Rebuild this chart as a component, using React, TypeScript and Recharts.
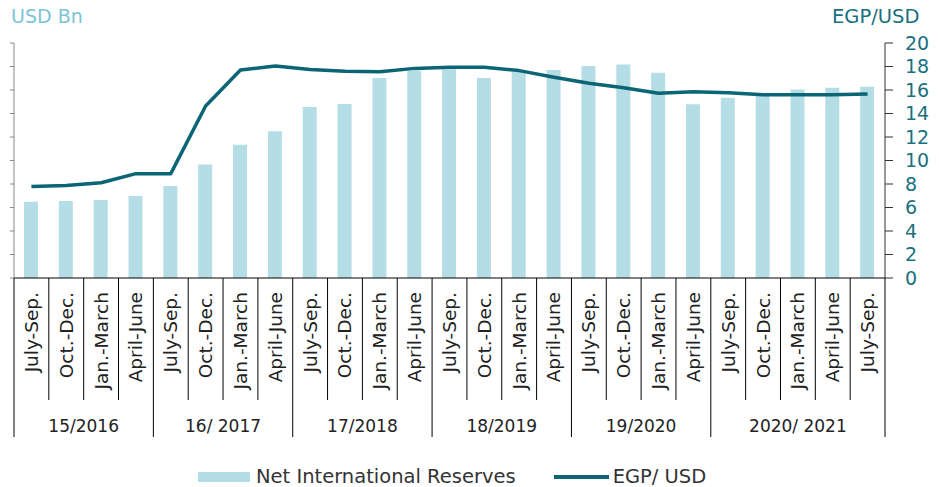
import React from "react";
import { Bar, ComposedChart, Line, XAxis, YAxis } from "recharts";

const quarters = [
  "July-Sep.", "Oct.-Dec.", "Jan.-March", "April-June",
  "July-Sep.", "Oct.-Dec.", "Jan.-March", "April-June",
  "July-Sep.", "Oct.-Dec.", "Jan.-March", "April-June",
  "July-Sep.", "Oct.-Dec.", "Jan.-March", "April-June",
  "July-Sep.", "Oct.-Dec.", "Jan.-March", "April-June",
  "July-Sep.", "Oct.-Dec.", "Jan.-March", "April-June", "July-Sep.",
];

const fiscalYears = ["15/2016", "16/ 2017", "17/2018", "18/2019", "19/2020", "2020/ 2021"];
const yearSizes = [4, 4, 4, 4, 4, 5];

const reserves = [
  6.5, 6.55, 6.64, 6.98, 7.83, 9.67, 11.35, 12.48, 14.55, 14.8, 17.02, 17.64, 17.76,
  17.02, 17.56, 17.7, 18.04, 18.18, 17.47, 14.78, 15.35, 15.6, 16.05, 16.2, 16.28,
];

const egpUsd = [
  7.78, 7.88, 8.11, 8.88, 8.88, 14.64, 17.7, 18.04, 17.75, 17.6, 17.56, 17.84, 17.93,
  17.93, 17.65, 17.08, 16.57, 16.2, 15.72, 15.86, 15.77, 15.6, 15.6, 15.6, 15.66,
];

const yTicks = [0, 2, 4, 6, 8, 10, 12, 14, 16, 18, 20];

const data = quarters.map((q, i) => ({ key: i, quarter: q, reserves: reserves[i], egp: egpUsd[i] }));

const FONT = "'DejaVu Sans', sans-serif";
const BAR = "#b5dde6";
const TEAL = "#0b6574";
const BAND = 871 / quarters.length;

const groupStarts: number[] = [];
yearSizes.reduce((acc, n) => {
  groupStarts.push(acc);
  return acc + n;
}, 0);

function QuarterTick(props: any) {
  const { x, y, payload } = props;
  const i = payload.index;
  const left = x - BAND / 2;
  const g = groupStarts.indexOf(i);
  return (
    <g>
      <line x1={left} x2={left} y1={y} y2={y + (g >= 0 ? 159 : 122)} stroke="#000" />
      {i === quarters.length - 1 && (
        <line x1={x + BAND / 2} x2={x + BAND / 2} y1={y} y2={y + 159} stroke="#000" />
      )}
      <text
        x={x}
        y={y + 14}
        transform={`rotate(-90 ${x} ${y + 14})`}
        textAnchor="end"
        dy="0.35em"
        fontSize={18.5}
        fontFamily={FONT}
        fill="#222"
      >
        {quarters[i]}
      </text>
      {g >= 0 && (
        <text
          x={left + (yearSizes[g] * BAND) / 2}
          y={y + 154}
          textAnchor="middle"
          fontSize={17}
          fontFamily={FONT}
          fill="#222"
        >
          {fiscalYears[g]}
        </text>
      )}
    </g>
  );
}

export default function App() {
  return (
    <div style={{ position: "absolute", left: 0, top: 0, width: 939, height: 487, background: "#fff" }}>
      <div style={{ position: "absolute", left: 11, top: 5, fontFamily: FONT, fontSize: 19, color: "#7cc4d6" }}>
        USD Bn
      </div>
      <div style={{ position: "absolute", left: 832, top: 5, fontFamily: FONT, fontSize: 19.5, color: "#1a7080" }}>
        EGP/USD
      </div>
      <ComposedChart
        width={939}
        height={487}
        data={data}
        margin={{ top: 43, right: 0, bottom: 0, left: 4 }}
      >
        <XAxis
          dataKey="key"
          xAxisId="x"
          height={209}
          interval={0}
          tickLine={false}
          tickSize={0}
          tickMargin={0}
          axisLine={{ stroke: "#000" }}
          tick={<QuarterTick />}
        />
        <YAxis
          yAxisId="left"
          width={10}
          domain={[0, 20]}
          ticks={yTicks}
          interval={0}
          tickSize={4}
          axisLine={{ stroke: "#888" }}
          tickLine={{ stroke: "#888" }}
          tick={() => <g />}
        />
        <YAxis
          yAxisId="right"
          orientation="right"
          width={54}
          domain={[0, 20]}
          ticks={yTicks}
          interval={0}
          tickSize={8}
          tickMargin={12}
          axisLine={{ stroke: "#333" }}
          tickLine={{ stroke: "#333" }}
          tick={{ fill: "#1a7080", fontSize: 19, fontFamily: FONT, textAnchor: "start" }}
        />
        <Bar xAxisId="x" yAxisId="left" dataKey="reserves" fill={BAR} barSize={14} isAnimationActive={false} />
        <Line
          xAxisId="x"
          yAxisId="right"
          dataKey="egp"
          type="linear"
          stroke={TEAL}
          strokeWidth={3.5}
          strokeLinejoin="round"
          dot={false}
          isAnimationActive={false}
        />
      </ComposedChart>
      <div
        style={{
          position: "absolute",
          top: 467,
          left: 198,
          height: 20,
          lineHeight: "20px",
          display: "flex",
          alignItems: "center",
          fontFamily: FONT,
          fontSize: 19.5,
          color: "#333",
          whiteSpace: "nowrap",
        }}
      >
        <span style={{ display: "inline-block", width: 52, height: 10, background: BAR, marginRight: 6 }} />
        <span>Net International Reserves</span>
        <span style={{ display: "inline-block", width: 55, height: 3.5, background: TEAL, marginLeft: 38, marginRight: 4 }} />
        <span>EGP/ USD</span>
      </div>
    </div>
  );
}
